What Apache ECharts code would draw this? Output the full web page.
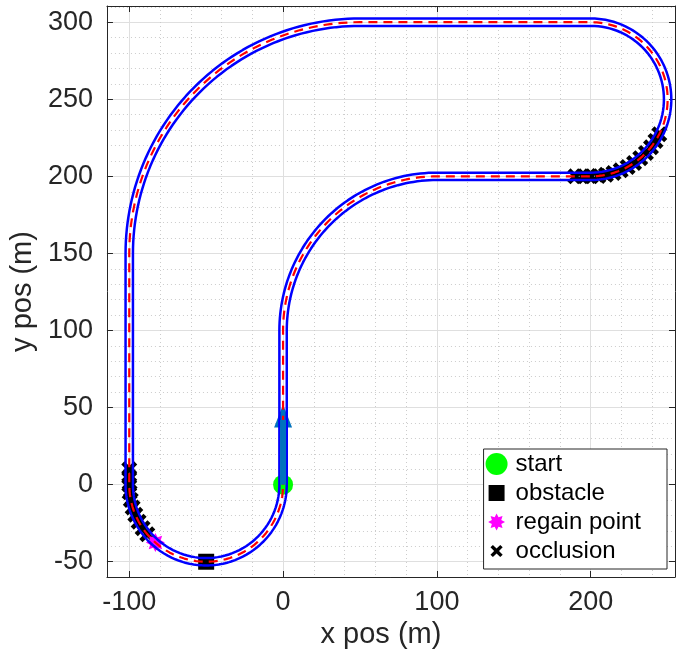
<!DOCTYPE html>
<html><head><meta charset="utf-8">
<script src="https://cdn.jsdelivr.net/npm/echarts@6/dist/echarts.min.js"></script>
<style>html,body{margin:0;padding:0;background:#fff}#c{width:680px;height:655px}</style>
</head><body><div id="c"></div><script>
// ---- data ----
// track centre line pieces: ['line', x0, y0, x1, y1] or ['arc', cx, cy, r, startDeg, endDeg]
const trackPieces = [
  ['line', 0, 0, 0, 100],
  ['arc', 100, 100, 100, 180, 90],
  ['line', 100, 200, 200, 200],
  ['arc', 200, 250, 50, -90, 90],
  ['line', 200, 300, 50, 300],
  ['arc', 50, 150, 150, 90, 180],
  ['line', -100, 150, -100, 0],
  ['arc', -50, 0, 50, 180, 360]
];
const laneHalfWidth = 2.4;
const startPoint = [[0, 0]];
const obstaclePoint = [[-50, -50]];
const regainPoint = [[-83, -37.5]];
const occlusionPoints = [
  [190, 200], [195, 200], [200, 200], [205.0, 200.3], [209.9, 201.0], [214.8, 202.2],
  [219.5, 203.9], [224.0, 206.1], [228.2, 208.7], [232.2, 211.8], [235.9, 215.2],
  [239.2, 218.9], [242.1, 223.0], [244.6, 227.3],
  [-100, 10], [-100, 5], [-100, 0], [-99.75, -5.0], [-99.0, -9.9], [-97.8, -14.8],
  [-96.05, -19.5], [-93.9, -24.0], [-91.3, -28.2], [-88.25, -32.2]
];
const headingArrow = [[0, 0], [0, 52]];
const xTickValues = [-100, 0, 100, 200];
const yTickValues = [-50, 0, 50, 100, 150, 200, 250, 300];
const xLimits = [-114.5, 254.8];
const yLimits = [-59.9, 310.5];
const legendNames = ['start', 'obstacle', 'regain point', 'occlusion'];

// ---- helpers ----
function samplePath(offset) {
  const pts = [];
  trackPieces.forEach(p => {
    if (p[0] === 'line') {
      const x0 = p[1], y0 = p[2], x1 = p[3], y1 = p[4];
      const dx = x1 - x0, dy = y1 - y0, L = Math.hypot(dx, dy);
      const nx = -dy / L, ny = dx / L;
      pts.push([x0 + nx * offset, y0 + ny * offset], [x1 + nx * offset, y1 + ny * offset]);
    } else {
      const cx = p[1], cy = p[2], r = p[3], a0 = p[4], a1 = p[5];
      const rr = a1 > a0 ? r - offset : r + offset;
      const n = Math.ceil(Math.abs(a1 - a0) / 1.5);
      for (let i = 0; i <= n; i++) {
        const a = (a0 + (a1 - a0) * i / n) * Math.PI / 180;
        pts.push([cx + rr * Math.cos(a), cy + rr * Math.sin(a)]);
      }
    }
  });
  return pts;
}
function minorTicks(lo, hi, step, majors) {
  const out = [];
  for (let v = Math.ceil(lo / step) * step; v <= hi; v += step) {
    if (majors.indexOf(v) < 0) out.push(v);
  }
  return out;
}
function starPath(pad) {
  let s = '';
  for (let i = 0; i < 16; i++) {
    const a = i * Math.PI / 8;
    const r = i % 2 === 0 ? 10 : 6;
    s += (i === 0 ? 'M' : 'L') + (11 + r * Math.cos(a)).toFixed(2) + ',' + (11 + r * Math.sin(a)).toFixed(2);
  }
  return 'path://' + (pad ? 'M-2,-2M24,24' : '') + s + 'Z';
}
const xShape = 'M0,2L2,0L5,3L8,0L10,2L7,5L10,8L8,10L5,7L2,10L0,8L3,5Z';
const xIcon = 'path://M-4,-4M14,14' + xShape;
const squareIcon = 'path://M0,0M22,22M3,3L19,3L19,19L3,19Z';

const textColor = '#262626';
const font = 'Liberation Sans, Arial, Helvetica, sans-serif';
const majorGrid = { show: true, lineStyle: { color: '#dfdfdf', width: 1 } };
const minorGrid = { show: true, lineStyle: { color: '#cccccc', width: 1, type: [1, 3] } };

function boxAxis(pos, ticks) {
  return {
    type: 'value', position: pos,
    axisLine: { show: true, onZero: false, lineStyle: { color: textColor, width: 1 } },
    axisTick: { show: true, inside: true, length: 6, customValues: ticks, lineStyle: { color: textColor } },
    axisLabel: { show: false }, splitLine: { show: false }
  };
}

const xMain = {
  type: 'value', position: 'bottom', min: xLimits[0], max: xLimits[1],
  name: 'x pos (m)', nameLocation: 'middle', nameGap: 43,
  nameTextStyle: { fontSize: 29, color: textColor, fontFamily: font, padding: [0, 20, 0, 0] },
  axisLine: { show: true, onZero: false, lineStyle: { color: textColor, width: 1 } },
  axisTick: { show: true, inside: true, length: 6, customValues: xTickValues, lineStyle: { color: textColor } },
  axisLabel: { show: true, customValues: xTickValues, fontSize: 27, color: textColor, fontFamily: font, margin: 12 },
  splitLine: majorGrid
};
const yMain = {
  type: 'value', position: 'left', min: yLimits[0], max: yLimits[1],
  name: 'y pos (m)', nameLocation: 'middle', nameGap: 60,
  nameTextStyle: { fontSize: 29, color: textColor, fontFamily: font },
  axisLine: { show: true, onZero: false, lineStyle: { color: textColor, width: 1 } },
  axisTick: { show: true, inside: true, length: 6, customValues: yTickValues, lineStyle: { color: textColor } },
  axisLabel: { show: true, customValues: yTickValues, fontSize: 27, color: textColor, fontFamily: font, margin: 14 },
  splitLine: majorGrid
};
const xTop = Object.assign(boxAxis('top', xTickValues), { min: xLimits[0], max: xLimits[1] });
const yRight = Object.assign(boxAxis('right', yTickValues), { min: yLimits[0], max: yLimits[1] });
const xMinor = {
  type: 'value', position: 'bottom', min: xLimits[0], max: xLimits[1],
  axisLine: { show: false }, axisLabel: { show: false },
  axisTick: { show: false, customValues: minorTicks(xLimits[0], xLimits[1], 20, xTickValues) },
  splitLine: minorGrid
};
const yMinor = {
  type: 'value', position: 'left', min: yLimits[0], max: yLimits[1],
  axisLine: { show: false }, axisLabel: { show: false },
  axisTick: { show: false, customValues: minorTicks(yLimits[0], yLimits[1], 10, yTickValues) },
  splitLine: minorGrid
};

const arrowColor = '#0072bd';
const shaftEnd = [headingArrow[1][0], headingArrow[1][1] - 10];

const chart = echarts.init(document.getElementById('c'), null, { renderer: 'canvas' });
chart.setOption({
  animation: false,
  backgroundColor: '#fff',
  grid: { left: 106, top: 6, right: 5, bottom: 78, containLabel: false },
  xAxis: [xMain, xTop, xMinor],
  yAxis: [yMain, yRight, yMinor],
  legend: {
    orient: 'vertical', right: 13, bottom: 86,
    data: [
      { name: 'start', icon: 'circle' },
      { name: 'obstacle', icon: squareIcon },
      { name: 'regain point', icon: starPath(true) },
      { name: 'occlusion', icon: xIcon }
    ],
    itemWidth: 28, itemHeight: 22, itemGap: 5,
    padding: [3, 26, 6, 2],
    backgroundColor: '#fff', borderColor: textColor, borderWidth: 1, borderRadius: 0,
    textStyle: { fontSize: 24, color: '#000', fontFamily: font, lineHeight: 24 },
    selectedMode: false
  },
  series: [
    { type: 'line', name: 'lane left', data: samplePath(laneHalfWidth), showSymbol: false, symbol: 'none',
      lineStyle: { color: '#0000ff', width: 2.5 }, silent: true },
    { type: 'line', name: 'lane right', data: samplePath(-laneHalfWidth), showSymbol: false, symbol: 'none',
      lineStyle: { color: '#0000ff', width: 2.5 }, silent: true },
    { type: 'line', name: 'centre', data: samplePath(0), showSymbol: false, symbol: 'none',
      lineStyle: { color: '#ff0000', width: 2.2, type: [9, 6] }, silent: true },
    { type: 'line', name: 'heading', data: [headingArrow[0], shaftEnd], showSymbol: false, symbol: 'none',
      lineStyle: { color: arrowColor, width: 6, cap: 'butt' }, silent: true },
    { type: 'scatter', name: 'heading head', data: [headingArrow[1]], symbol: 'triangle',
      symbolSize: [18, 23], symbolOffset: [0, '50%'], itemStyle: { color: arrowColor, opacity: 1 }, silent: true },
    { type: 'scatter', name: 'occlusion', data: occlusionPoints, symbol: 'path://' + xShape,
      symbolSize: 16, itemStyle: { color: '#000', opacity: 1 } },
    { type: 'scatter', name: 'regain point', data: regainPoint, symbol: starPath(false),
      symbolSize: 19, itemStyle: { color: '#ff00ff', opacity: 1 } },
    { type: 'scatter', name: 'obstacle', data: obstaclePoint, symbol: 'rect',
      symbolSize: 16, itemStyle: { color: '#000', opacity: 1 } },
    { type: 'scatter', name: 'start', data: startPoint, symbol: 'circle',
      symbolSize: 20, itemStyle: { color: '#00ff00', opacity: 1 } }
  ]
});
</script></body></html>
